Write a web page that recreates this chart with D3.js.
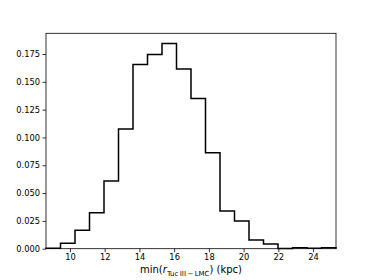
<!DOCTYPE html>
<html>
<head>
<meta charset="utf-8">
<script src="https://cdn.jsdelivr.net/npm/d3@7"></script>
<style>
  body { margin: 0; background: #fff; }
  svg { display: block; }
  .tick text { font-family: "DejaVu Sans", sans-serif; font-size: 8.3px; fill: #000; }
</style>
</head>
<body>
<div id="chart"></div>
<script>
// bin edges (kpc) and normalised counts
var binEdges = [8.62, 9.455, 10.29, 11.125, 11.96, 12.795, 13.63, 14.465, 15.30, 16.135,
                16.97, 17.805, 18.64, 19.475, 20.31, 21.145, 21.98, 22.815, 23.65, 24.485, 25.32];
var binValues = [0.0004, 0.0048, 0.0165, 0.0323, 0.0608, 0.1075, 0.1655, 0.1745, 0.1844, 0.1616,
                 0.135, 0.0862, 0.0338, 0.0249, 0.0078, 0.0042, 0.0002, 0.0008, 0.0003, 0.0008];
var xTicks = [10, 12, 14, 16, 18, 20, 22, 24];
var yTicks = [0, 0.025, 0.05, 0.075, 0.1, 0.125, 0.15, 0.175];

var width = 374, height = 280;
var margin = {left: 46, right: 38, top: 33.3, bottom: 31.3};

var svg = d3.select("#chart")
    .append("svg")
    .attr("width", width)
    .attr("height", height);

var x = d3.scaleLinear()
    .domain([binEdges[0], binEdges[binEdges.length - 1]])
    .range([margin.left, width - margin.right]);
var y = d3.scaleLinear()
    .domain([0, d3.max(binValues) * 1.05])
    .range([height - margin.bottom, margin.top]);

// step outline of the histogram
var pts = [[binEdges[0], 0]];
for (var i = 0; i < binValues.length; i++) {
    pts.push([binEdges[i], binValues[i]]);
    pts.push([binEdges[i + 1], binValues[i]]);
}
pts.push([binEdges[binEdges.length - 1], 0]);

var line = d3.line()
    .x(function (d) { return x(d[0]); })
    .y(function (d) { return y(d[1]); });

svg.append("path")
    .datum(pts)
    .attr("d", line)
    .attr("fill", "none")
    .attr("stroke", "#000")
    .attr("stroke-width", 1.5)
    .attr("stroke-linejoin", "miter");

// axes
var xAxis = svg.append("g")
    .attr("transform", "translate(0," + (height - margin.bottom) + ")")
    .call(d3.axisBottom(x).tickValues(xTicks).tickSize(3.5).tickPadding(2).tickFormat(d3.format("d")));
var yAxis = svg.append("g")
    .attr("transform", "translate(" + margin.left + ",0)")
    .call(d3.axisLeft(y).tickValues(yTicks).tickSize(3.5).tickPadding(2.5).tickFormat(d3.format(".3f")));

[xAxis, yAxis].forEach(function (g) {
    g.select(".domain").remove();
    g.selectAll(".tick line").attr("stroke", "#000").attr("stroke-width", 0.8);
});

// frame
svg.append("rect")
    .attr("x", margin.left)
    .attr("y", margin.top)
    .attr("width", width - margin.left - margin.right)
    .attr("height", height - margin.top - margin.bottom)
    .attr("fill", "none")
    .attr("stroke", "#000")
    .attr("stroke-width", 0.8);

// x label
var label = svg.append("text")
    .attr("x", (margin.left + width - margin.right) / 2)
    .attr("y", 273)
    .attr("text-anchor", "middle")
    .style("font-family", "'DejaVu Sans', sans-serif")
    .style("font-size", "10px");
label.append("tspan").text("min(");
label.append("tspan").style("font-style", "italic").text("r");
label.append("tspan").attr("dy", 2.5).style("font-size", "7px").text("Tuc\u2009III\u2009\u2212\u2009LMC");
label.append("tspan").attr("dy", -2.5).text(") (kpc)");
</script>
</body>
</html>
